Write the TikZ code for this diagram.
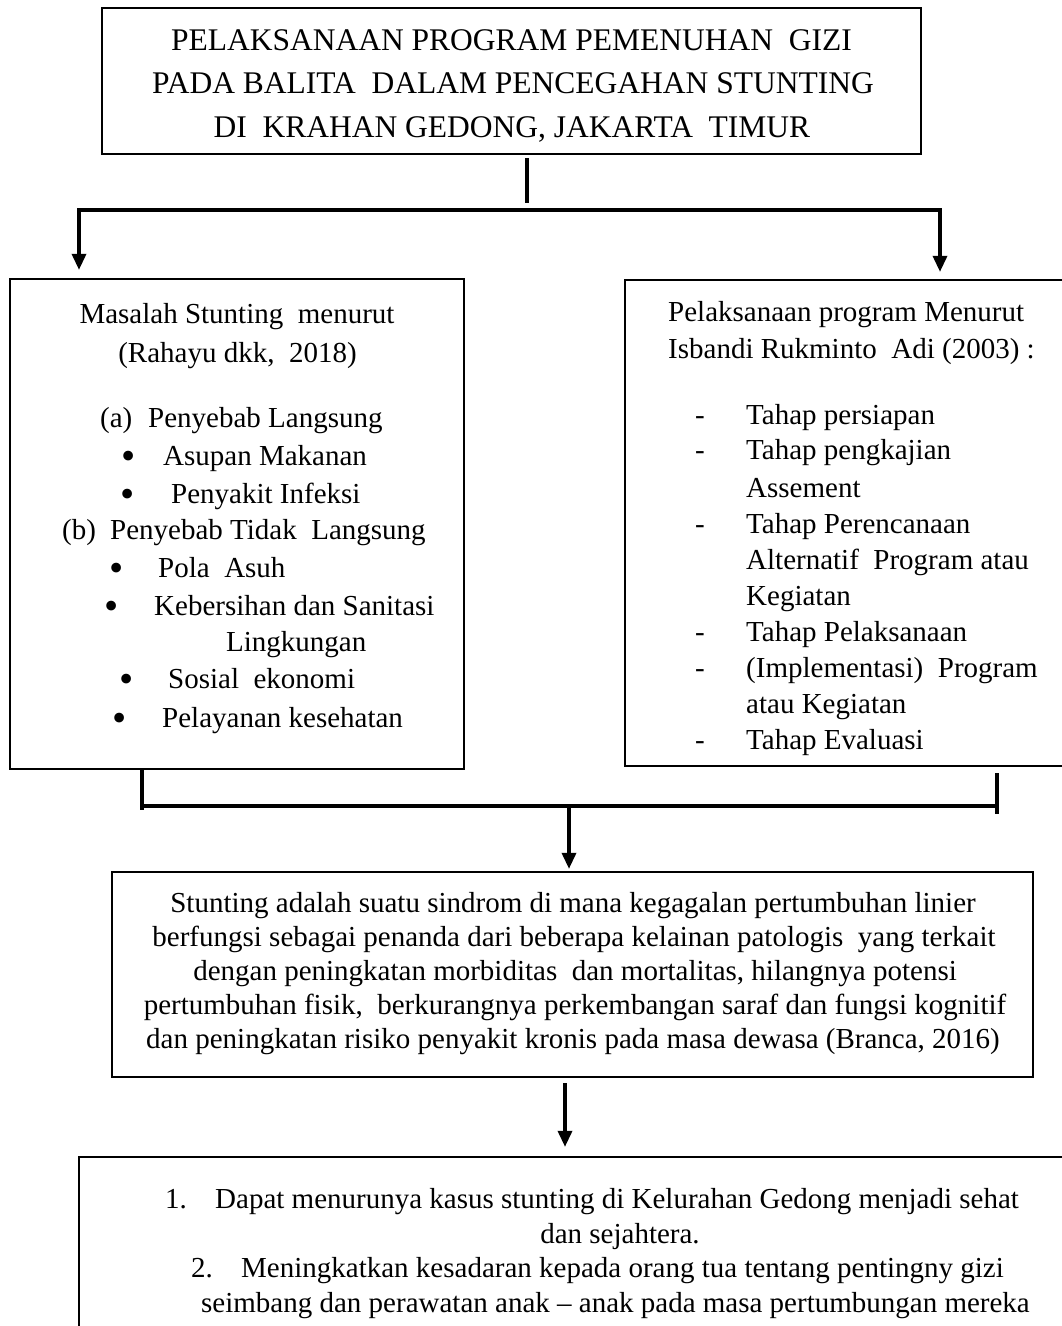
\documentclass[tikz,border=0pt]{standalone}
\usepackage{fontspec}
\usepackage{graphicx}
\setmainfont{Liberation Serif}
\usetikzlibrary{arrows.meta}
\newcommand\mainfs{\fontsize{29}{35}\selectfont}
\newcommand\topfs{\fontsize{31.5}{44}\selectfont}
\newcommand\bigbul{\raisebox{-4pt}{\scalebox{1.4}{•}}}
\tikzset{
  box/.style={draw, line width=2.3pt, inner sep=0pt},
  conn/.style={line width=3.4pt},
  arr/.style={conn, -{Triangle[length=16pt,width=14pt]}},
  tc/.style={anchor=base, inner sep=0pt, font=\mainfs},
  tw/.style={anchor=base west, inner sep=0pt, font=\mainfs},
  tt/.style={anchor=base, inner sep=0pt, font=\topfs},
}
\begin{document}
\begin{tikzpicture}[x=1pt,y=-1pt]
\useasboundingbox (0,0) rectangle (1062,1326);
\clip (0,0) rectangle (1062,1326);

% boxes
\node[box, minimum width=819pt, minimum height=146pt] (top) at (511.5,81) {};
\node[box, minimum width=454pt, minimum height=490pt] (left) at (237,524) {};
\node[box, minimum width=445pt, minimum height=486pt] (right) at (847.5,523) {};
\node[box, minimum width=921pt, minimum height=205pt] (mid) at (572.5,974.5) {};
\node[box, minimum width=996pt, minimum height=188pt] (bot) at (577,1251) {};

% top text
\node[tt] (t1) at (511.5,50) {PELAKSANAAN PROGRAM PEMENUHAN~ GIZI};
\node[tt] (t2) at (513,93.5) {PADA BALITA~ DALAM PENCEGAHAN STUNTING};
\node[tt] (t3) at (512,137) {DI~ KRAHAN GEDONG, JAKARTA~ TIMUR};

% left text
\node[tc] (l1) at (237,323) {Masalah Stunting~ menurut};
\node[tc] (l2) at (237.5,362) {(Rahayu dkk,~ 2018)};
\node[tw] (l3a) at (100,427) {(a)};
\node[tw] (l3b) at (148,427) {Penyebab Langsung};
\node[tc] (l4a) at (129,465) {\bigbul};
\node[tw] (l4b) at (163,465) {Asupan Makanan};
\node[tc] (l5a) at (128,503) {\bigbul};
\node[tw] (l5b) at (171,503) {Penyakit Infeksi};
\node[tw] (l6a) at (62,539) {(b)};
\node[tw] (l6b) at (110,539) {Penyebab Tidak~ Langsung};
\node[tc] (l7a) at (117,577) {\bigbul};
\node[tw] (l7b) at (158,577) {Pola~ Asuh};
\node[tc] (l8a) at (112,615) {\bigbul};
\node[tw] (l8b) at (154,615) {Kebersihan dan Sanitasi};
\node[tw] (l9) at (226,651) {Lingkungan};
\node[tc] (l10a) at (127,688) {\bigbul};
\node[tw] (l10b) at (168,688) {Sosial~ ekonomi};
\node[tc] (l11a) at (120,727) {\bigbul};
\node[tw] (l11b) at (162,727) {Pelayanan kesehatan};

% right text
\node[tw] (r1) at (668,321) {Pelaksanaan program Menurut};
\node[tw] (r2) at (668,358) {Isbandi Rukminto~ Adi (2003) :};
\node[tc] (r3a) at (700,424) {-};
\node[tw] (r3b) at (746,424) {Tahap persiapan};
\node[tc] (r4a) at (700,459) {-};
\node[tw] (r4b) at (746,459) {Tahap pengkajian};
\node[tw] (r5) at (746,497) {Assement};
\node[tc] (r6a) at (700,533) {-};
\node[tw] (r6b) at (746,533) {Tahap Perencanaan};
\node[tw] (r7) at (746,569) {Alternatif~ Program atau};
\node[tw] (r8) at (746,605) {Kegiatan};
\node[tc] (r9a) at (700,641) {-};
\node[tw] (r9b) at (746,641) {Tahap Pelaksanaan};
\node[tc] (r10a) at (700,677) {-};
\node[tw] (r10b) at (746,677) {(Implementasi)~ Program};
\node[tw] (r11) at (746,713) {atau Kegiatan};
\node[tc] (r12a) at (700,749) {-};
\node[tw] (r12b) at (746,749) {Tahap Evaluasi};

% middle text
\node[tc] (m1) at (573,912) {Stunting adalah suatu sindrom di mana kegagalan pertumbuhan linier};
\node[tc] (m2) at (574,946) {berfungsi sebagai penanda dari beberapa kelainan patologis~ yang terkait};
\node[tc] (m3) at (575,980) {dengan peningkatan morbiditas~ dan mortalitas, hilangnya potensi};
\node[tc] (m4) at (575,1014) {pertumbuhan fisik,~ berkurangnya perkembangan saraf dan fungsi kognitif};
\node[tc] (m5) at (573,1048) {dan peningkatan risiko penyakit kronis pada masa dewasa (Branca, 2016)};

% bottom text
\node[tw] (b1a) at (165,1208) {1.};
\node[tw] (b1b) at (215,1208) {Dapat menurunya kasus stunting di Kelurahan Gedong menjadi sehat};
\node[tc] (b2) at (620,1243) {dan sejahtera.};
\node[tw] (b3a) at (191,1277) {2.};
\node[tw] (b3b) at (241,1277) {Meningkatkan kesadaran kepada orang tua tentang pentingny gizi};
\node[tw] (b4) at (201,1312) {seimbang dan perawatan anak -- anak pada masa pertumbungan mereka};

% connectors, top part
\coordinate (s1) at (527,158);
\coordinate (s2) at (527,203);
\draw[conn] (s1) -- (s2);
\coordinate (hl) at (79,210);
\coordinate (hr) at (940,210);
\draw[conn, {Triangle[length=16pt,width=14pt]}-{Triangle[length=16pt,width=14pt]}, shorten <=8pt, shorten >=7pt]
  (hl |- left.north) -- (hl) -- (hr) -- (hr |- right.north);

% connectors, middle part
\coordinate (bl) at (142,806);
\coordinate (blo) at (142,810);
\coordinate (br) at (999,806);
\coordinate (bri) at (997,773);
\coordinate (bro) at (997,814);
\coordinate (bm) at (569,806);
\draw[conn] (left.south -| blo) -- (blo);
\draw[conn] (bri) -- (bro);
\draw[conn] (bl) -- (br);
\draw[arr, shorten >=2pt] (bm) -- (bm |- mid.north);

% bottom arrow
\coordinate (m2) at (565,1083);
\draw[arr, shorten >=9pt] (m2) -- (m2 |- bot.north);
\end{tikzpicture}
\end{document}
